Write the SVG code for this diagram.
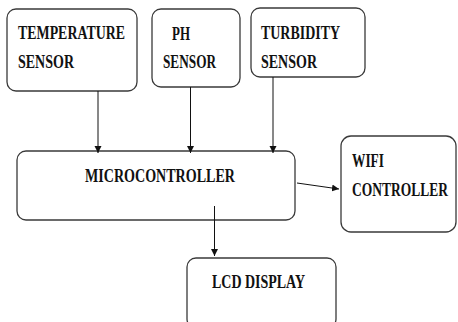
<svg xmlns="http://www.w3.org/2000/svg" width="458" height="322" viewBox="0 0 458 322">
  <style>
    .box { fill: #ffffff; stroke: #3a3a3a; stroke-width: 1.3; }
    .lbl { font-family: "Liberation Serif", "Times New Roman", serif; font-weight: bold; font-size: 19px; fill: #111111; }
    .wire { fill: none; stroke: #111111; stroke-width: 1; }
  </style>
  <defs>
    <marker id="arrow" viewBox="0 0 10 10" refX="10" refY="5" markerWidth="7" markerHeight="9" markerUnits="userSpaceOnUse" orient="auto">
      <path d="M0,0 L10,5 L0,10 z" fill="#111111"/>
    </marker>
  </defs>
  <rect width="458" height="322" fill="#ffffff"/>

  <g id="temperature-sensor">
    <rect class="box" x="7" y="9" width="130" height="82" rx="9"/>
    <text class="lbl" x="18" y="39" textLength="107" lengthAdjust="spacingAndGlyphs">TEMPERATURE</text>
    <text class="lbl" x="18" y="68" textLength="56" lengthAdjust="spacingAndGlyphs">SENSOR</text>
  </g>

  <g id="ph-sensor">
    <rect class="box" x="152" y="9" width="88" height="78" rx="9"/>
    <text class="lbl" x="172" y="40" textLength="18" lengthAdjust="spacingAndGlyphs">PH</text>
    <text class="lbl" x="163" y="68" textLength="53" lengthAdjust="spacingAndGlyphs">SENSOR</text>
  </g>

  <g id="turbidity-sensor">
    <rect class="box" x="251" y="8" width="114" height="69" rx="9"/>
    <text class="lbl" x="261" y="39" textLength="79" lengthAdjust="spacingAndGlyphs">TURBIDITY</text>
    <text class="lbl" x="261" y="68" textLength="56" lengthAdjust="spacingAndGlyphs">SENSOR</text>
  </g>

  <g id="microcontroller">
    <rect class="box" x="17" y="151" width="278" height="69" rx="9"/>
    <text class="lbl" x="85" y="182" textLength="150" lengthAdjust="spacingAndGlyphs">MICROCONTROLLER</text>
  </g>

  <g id="wifi-controller">
    <rect class="box" x="341" y="136" width="115" height="96" rx="10"/>
    <text class="lbl" x="352" y="167" textLength="32" lengthAdjust="spacingAndGlyphs">WIFI</text>
    <text class="lbl" x="352" y="196" textLength="96" lengthAdjust="spacingAndGlyphs">CONTROLLER</text>
  </g>

  <g id="lcd-display">
    <rect class="box" x="187" y="258" width="149" height="70" rx="9"/>
    <text class="lbl" x="212" y="288" textLength="93" lengthAdjust="spacingAndGlyphs">LCD DISPLAY</text>
  </g>

  <g id="connectors">
    <line class="wire" x1="98" y1="91" x2="98" y2="153" marker-end="url(#arrow)"/>
    <line class="wire" x1="190.5" y1="87" x2="190.5" y2="153" marker-end="url(#arrow)"/>
    <line class="wire" x1="273" y1="77" x2="273" y2="153" marker-end="url(#arrow)"/>
    <line class="wire" x1="297" y1="183" x2="339" y2="189" marker-end="url(#arrow)"/>
    <line class="wire" x1="214.5" y1="206" x2="214.5" y2="256" marker-end="url(#arrow)"/>
  </g>
</svg>
